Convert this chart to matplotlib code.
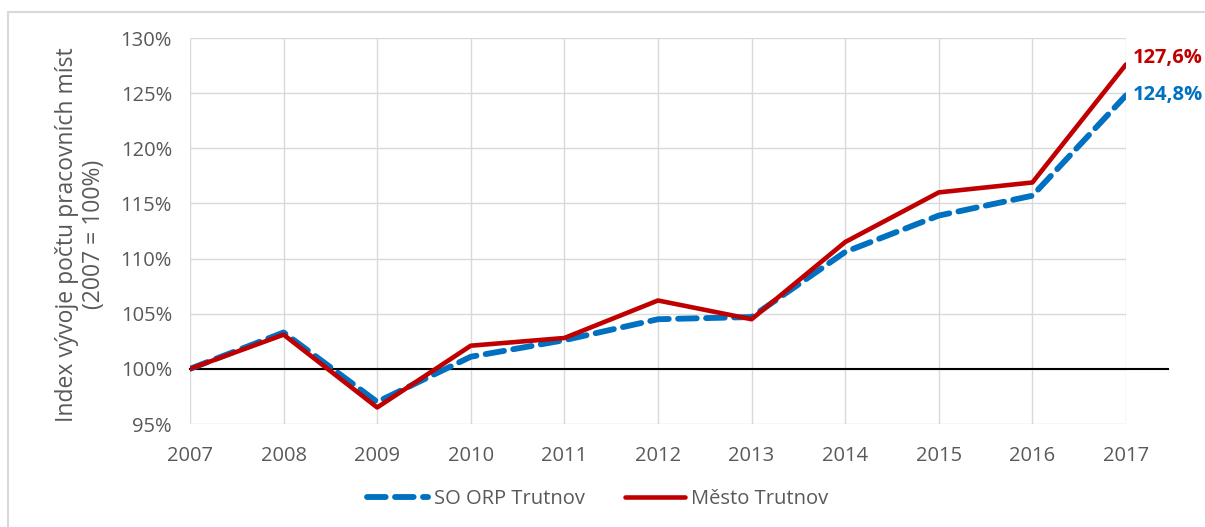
import matplotlib.pyplot as plt
from matplotlib.patches import Rectangle
from matplotlib.ticker import FuncFormatter

# index of number of jobs, 2007 = 100 %
years = [2007, 2008, 2009, 2010, 2011, 2012, 2013, 2014, 2015, 2016, 2017]
orp = [100.0, 103.3, 97.0, 101.1, 102.6, 104.5, 104.7, 110.6, 113.9, 115.7, 124.8]
mesto = [100.0, 103.1, 96.5, 102.1, 102.8, 106.2, 104.5, 111.5, 116.0, 116.9, 127.6]

plt.rcParams['font.family'] = ['Open Sans', 'DejaVu Sans']

fig = plt.figure(figsize=(12.05, 5.27), dpi=100)
ax = fig.add_axes([190 / 1205, 1 - 424 / 527, 936 / 1205, 386 / 527])

# light frame around the whole chart
fig.patches.append(Rectangle((8 / 1205, -0.1), 1.2, 1 - 12 / 527 + 0.1,
                             transform=fig.transFigure, fill=False,
                             edgecolor='#d9d9d9', linewidth=1.5))

blue = '#0070c0'
red = '#c00000'

ax.plot(years, orp, color=blue, linewidth=4.2, dashes=(3.2, 1.6),
        dash_capstyle='round', label='SO ORP Trutnov', zorder=3)
ax.plot(years, mesto, color=red, linewidth=3.3, solid_capstyle='round',
        label='Město Trutnov', zorder=4)
ax.axhline(100, xmin=0, xmax=1.045, color='black', linewidth=1.5,
           clip_on=False, zorder=2)

ax.set_xlim(2007, 2017)
ax.set_ylim(95, 130)
ax.set_xticks(years)
ax.set_yticks(range(95, 131, 5))
ax.yaxis.set_major_formatter(FuncFormatter(lambda v, p: f'{v:.0f}%'))
ax.grid(True, color='#d9d9d9', linewidth=1)
ax.set_axisbelow(True)
for s in ax.spines.values():
    s.set_visible(False)
ax.tick_params(length=0, labelsize=14.5, labelcolor='#595959')
ax.tick_params(axis='x', pad=16)
ax.tick_params(axis='y', pad=13)

ax.set_ylabel('Index vývoje počtu pracovních míst\n(2007 = 100%)',
              fontsize=16.5, color='#595959', linespacing=1.15)
ax.yaxis.set_label_coords(-0.09, 0.49)

ax.annotate('127,6%', xy=(years[-1], mesto[-1]), xytext=(5, 5),
            textcoords='offset points', color=red, fontsize=14.5,
            fontweight='bold', va='center', ha='left', annotation_clip=False)
ax.annotate('124,8%', xy=(years[-1], orp[-1]), xytext=(5, 0),
            textcoords='offset points', color=blue, fontsize=14.5,
            fontweight='bold', va='center', ha='left', annotation_clip=False)

leg = fig.legend(loc='center', bbox_to_anchor=(598 / 1205, 1 - 499 / 527),
                 ncol=2, frameon=False, fontsize=14.5, handlelength=3.0,
                 columnspacing=2.0, handletextpad=0.3)
for t in leg.get_texts():
    t.set_color('#595959')

fig.savefig('out.png', dpi=100)
